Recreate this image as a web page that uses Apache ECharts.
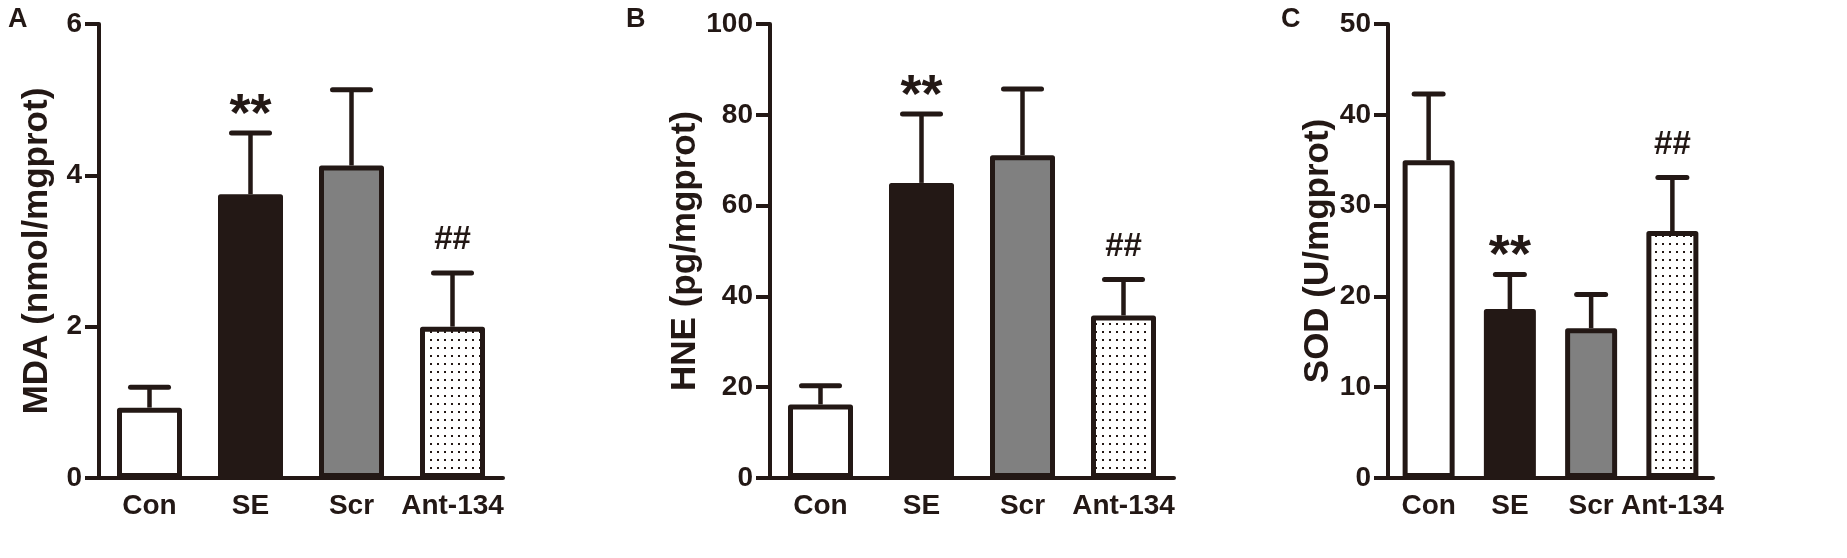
<!DOCTYPE html>
<html>
<head>
<meta charset="utf-8">
<script src="https://cdn.jsdelivr.net/npm/echarts@6/dist/echarts.min.js"></script>
<style>
  html, body { margin: 0; padding: 0; background: #fff; }
  #chart { width: 1847px; height: 558px; }
</style>
</head>
<body>
<div id="chart"></div>
<script>
// groups on the x axis (same for all three panels)
const groups = ['Con', 'SE', 'Scr', 'Ant-134']

// panel A: MDA
const mdaMean = [0.93, 3.75, 4.13, 2.0]
const mdaErr = [1.2, 4.56, 5.13, 2.71]
const mdaMarks = ['', '**', '', '##']
const mdaTicks = [0, 2, 4, 6]

// panel B: HNE
const hneMean = [16.2, 65.0, 71.1, 35.8]
const hneErr = [20.3, 80.2, 85.7, 43.7]
const hneMarks = ['', '**', '', '##']
const hneTicks = [0, 20, 40, 60, 80, 100]

// panel C: SOD
const sodMean = [35.0, 18.6, 16.5, 27.2]
const sodErr = [42.3, 22.4, 20.2, 33.1]
const sodMarks = ['', '**', '', '##']
const sodTicks = [0, 10, 20, 30, 40, 50]

const ink = '#231815'
const font = "'Liberation Sans', Arial, sans-serif"

// dotted fill for the Ant-134 bars
const dots = document.createElement('canvas')
dots.width = 7
dots.height = 8
const dctx = dots.getContext('2d')
dctx.fillStyle = '#ffffff'
dctx.fillRect(0, 0, 7, 8)
dctx.fillStyle = ink
dctx.fillRect(3, 3, 2, 2)

const fills = ['#ffffff', ink, '#808080', { image: dots, repeat: 'repeat' }]

const panels = [
  { name: 'MDA (nmol/mgprot)', mean: mdaMean, err: mdaErr, marks: mdaMarks, ticks: mdaTicks,
    left: 99, width: 404, barWidth: 65, cap: 19 },
  { name: 'HNE (pg/mgprot)', mean: hneMean, err: hneErr, marks: hneMarks, ticks: hneTicks,
    left: 770, width: 404, barWidth: 65, cap: 19 },
  { name: 'SOD (U/mgprot)', mean: sodMean, err: sodErr, marks: sodMarks, ticks: sodTicks,
    left: 1388, width: 325, barWidth: 52, cap: 14.5 }
]

const grid = []
const xAxis = []
const yAxis = []
const series = []

panels.forEach((p, i) => {
  const step = p.ticks[1] - p.ticks[0]
  grid.push({ left: p.left, top: 24, width: p.width, bottom: 80 })
  xAxis.push({
    type: 'category', gridIndex: i, data: groups,
    axisLine: { lineStyle: { color: ink, width: 4 } },
    axisTick: { show: false },
    axisLabel: { color: ink, fontSize: 28, fontWeight: 'bold', fontFamily: font, margin: 14, interval: 0 }
  })
  yAxis.push({
    type: 'value', gridIndex: i,
    min: p.ticks[0], max: p.ticks[p.ticks.length - 1], interval: step,
    name: p.name, nameLocation: 'middle', nameGap: 44,
    nameTextStyle: { color: ink, fontSize: 35, fontWeight: 'bold', fontFamily: font },
    axisLine: { show: true, lineStyle: { color: ink, width: 4 } },
    axisTick: { show: true, length: 14, lineStyle: { color: ink, width: 4 } },
    axisLabel: { color: ink, fontSize: 28, fontWeight: 'bold', fontFamily: font, margin: 17 },
    splitLine: { show: false }
  })
  series.push({
    type: 'bar', xAxisIndex: i, yAxisIndex: i, barWidth: p.barWidth,
    data: p.mean.map((v, k) => ({
      value: v,
      itemStyle: { color: fills[k], borderColor: ink, borderWidth: 5, borderJoin: 'round' }
    })),
    silent: true
  })
  series.push({
    type: 'custom', xAxisIndex: i, yAxisIndex: i, z: 3, silent: true,
    data: p.mean.map((v, k) => [k, v, p.err[k]]),
    renderItem: (params, api) => {
      const k = api.value(0)
      const base = api.coord([k, api.value(1)])
      const top = api.coord([k, api.value(2)])
      const mark = p.marks[k]
      const children = [
        { type: 'line', shape: { x1: base[0], y1: base[1], x2: top[0], y2: top[1] },
          style: { stroke: ink, lineWidth: 4.5 } },
        { type: 'line', shape: { x1: top[0] - p.cap, y1: top[1], x2: top[0] + p.cap, y2: top[1] },
          style: { stroke: ink, lineWidth: 5, lineCap: 'round' } }
      ]
      if (mark) {
        const star = mark === '**'
        children.push({
          type: 'text',
          style: {
            text: mark, x: top[0], y: top[1] - (star ? 17 : 33),
            align: 'center', verticalAlign: 'middle', fill: ink,
            font: star ? 'bold 54px "Liberation Sans", Arial' : 'bold 33px "Liberation Sans", Arial'
          }
        })
      }
      return { type: 'group', children }
    }
  })
})

const chart = echarts.init(document.getElementById('chart'))
chart.setOption({
  animation: false,
  backgroundColor: '#ffffff',
  grid, xAxis, yAxis, series,
  graphic: [
    { type: 'text', left: 8, top: 6, style: { text: 'A', fill: ink, fontSize: 27, fontWeight: 'bold', fontFamily: font } },
    { type: 'text', left: 626, top: 6, style: { text: 'B', fill: ink, fontSize: 27, fontWeight: 'bold', fontFamily: font } },
    { type: 'text', left: 1281, top: 6, style: { text: 'C', fill: ink, fontSize: 27, fontWeight: 'bold', fontFamily: font } }
  ]
})
</script>
</body>
</html>
